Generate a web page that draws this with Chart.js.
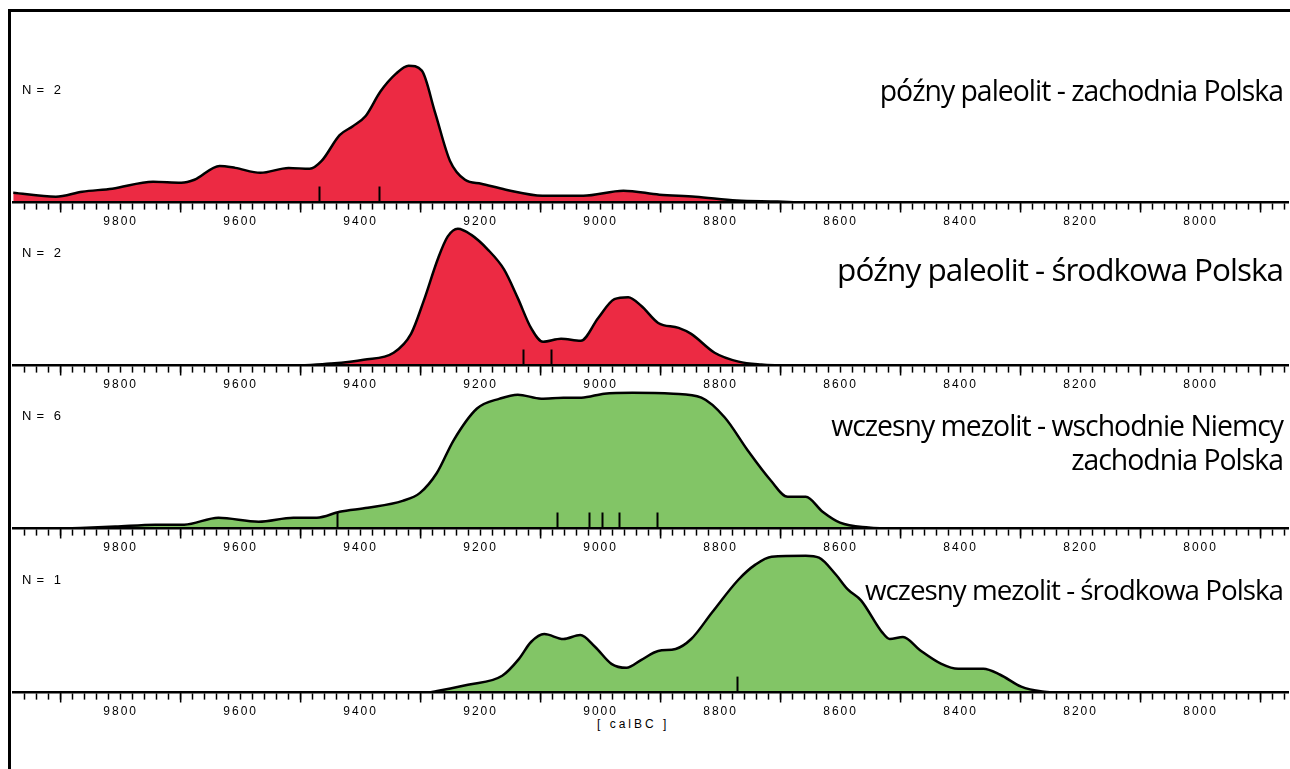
<!DOCTYPE html>
<html>
<head>
<meta charset="utf-8">
<script src="https://cdn.jsdelivr.net/npm/chart.js@4.4.1/dist/chart.umd.min.js"></script>
<style>
  body { margin: 0; background: #fff; width: 1290px; height: 769px; overflow: hidden; position: relative;
         font-family: 'Liberation Sans', Arial, sans-serif; color: #000; }
  .frame-top { position: absolute; left: 8px; top: 9px; width: 1282px; height: 3px; background: #000; }
  .frame-left { position: absolute; left: 8px; top: 9px; width: 3px; height: 760px; background: #000; }
  canvas.panel { position: absolute; left: 12px; }
  .nlabel { position: absolute; left: 22px; font-size: 13px; letter-spacing: 0.8px; white-space: pre; line-height: 14px; }
  .title { position: absolute; right: 7px; font-family: 'Open Sans', sans-serif; line-height: 1;
           letter-spacing: -1px; white-space: nowrap; }
  .unit { position: absolute; left: 597px; top: 717px; font-size: 12px; letter-spacing: 3px; white-space: pre; line-height: 14px; }
</style>
</head>
<body>
<div class="frame-top"></div>
<div class="frame-left"></div>
<div class="unit">[ calBC ]</div>

<script>
// tick labels on every axis
const yearTicks = [9800, 9600, 9400, 9200, 9000, 8800, 8600, 8400, 8200, 8000];

// późny paleolit - zachodnia Polska
const zpYears = [9980, 9908, 9864, 9814, 9746, 9699, 9677, 9635, 9609, 9567, 9520, 9485, 9465, 9435, 9413, 9392, 9367, 9341, 9320, 9298, 9276, 9251, 9226, 9199, 9158, 9097, 9029, 8962, 8902, 8842, 8773, 8705, 8665];
const zpProb  = [10, 6, 11, 14, 21, 20, 23, 37, 35, 30, 35, 34, 42, 68, 77, 87, 112, 130, 138, 133, 91, 42, 23, 19, 13, 7, 7, 12, 8, 6, 2, 1, 0];
const zpDates = [9470, 9370];

// późny paleolit - środkowa Polska
const spYears = [9500, 9450, 9395, 9345, 9316, 9295, 9271, 9255, 9238, 9216, 9188, 9161, 9138, 9116, 9096, 9066, 9033, 9004, 8977, 8954, 8932, 8904, 8870, 8849, 8810, 8770, 8732, 8698];
const spProb  = [0, 2, 6, 13, 32, 65, 108, 130, 138, 132, 117, 97, 68, 38, 24, 27, 25, 48, 67, 69, 60, 43, 38, 32, 13, 4, 1, 0];
const spDates = [9129, 9082];

// wczesny mezolit - wschodnie Niemcy / zachodnia Polska
const wmYears = [9896, 9809, 9742, 9694, 9637, 9570, 9512, 9473, 9435, 9388, 9330, 9301, 9273, 9245, 9206, 9168, 9138, 9099, 9062, 9032, 8994, 8947, 8879, 8832, 8793, 8755, 8717, 8688, 8658, 8630, 8601, 8553, 8525];
const wmProb  = [0, 2, 4, 4, 11, 7, 11, 11, 17, 21, 28, 36, 56, 89, 121, 131, 135, 131, 132, 132, 136, 137, 136, 132, 112, 79, 49, 32, 32, 17, 6, 1, 0];
const wmDates = [9440, 9073, 9020, 8998, 8970, 8906];

// wczesny mezolit - środkowa Polska
const smYears = [9285, 9221, 9164, 9136, 9116, 9094, 9062, 9034, 9009, 8982, 8957, 8932, 8904, 8875, 8849, 8814, 8770, 8742, 8715, 8658, 8636, 8608, 8588, 8566, 8531, 8518, 8496, 8468, 8432, 8404, 8362, 8334, 8299, 8264, 8236];
const smProb  = [0, 8, 17, 34, 51, 59, 54, 58, 46, 29, 25, 33, 42, 44, 54, 81, 114, 129, 137, 138, 136, 119, 104, 93, 61, 54, 56, 43, 29, 24, 24, 18, 6, 1, 0];
const smDates = [8773];

const panelN = [2, 2, 6, 1];
const panelTitles = [
    ['późny paleolit - zachodnia Polska'],
    ['późny paleolit - środkowa Polska'],
    ['wczesny mezolit - wschodnie Niemcy', 'zachodnia Polska'],
    ['wczesny mezolit - środkowa Polska']
];

const RED = '#ec2a43';
const GREEN = '#82c566';

// where each panel's axis line sits on the page, and title placement
const baselines = [203, 366, 529, 693];
const titleTops = [[76], [253], [411, 445], [576]];
const titleSizes = [28.4, 31.5, 28.4, 27.8];

// long ticks every 200 (odd hundreds) + short radiocarbon date marks
const axisExtras = {
    id: 'dateMarks',
    beforeDraw(chart) {
        chart.ctx.letterSpacing = '2px';
    },
    afterDatasetsDraw(chart, args, opts) {
        const { ctx, chartArea, scales: { x } } = chart;
        ctx.save();
        ctx.strokeStyle = '#000';
        ctx.lineWidth = 2;
        ctx.beginPath();
        (opts.dates || []).forEach(d => {
            const px = Math.round(x.getPixelForValue(d)) + 0.5;
            ctx.moveTo(px, chartArea.bottom);
            ctx.lineTo(px, chartArea.bottom - 16);
        });
        ctx.stroke();
        ctx.restore();
    },
    afterDraw(chart) {
        const { ctx, chartArea, scales: { x } } = chart;
        ctx.save();
        ctx.strokeStyle = '#000';
        ctx.lineWidth = 1.5;
        ctx.beginPath();
        const start = Math.ceil((x.min - 100) / 200) * 200 + 100;
        for (let v = start; v <= x.max; v += 200) {
            const px = x.getPixelForValue(v);
            ctx.moveTo(px, chartArea.bottom);
            ctx.lineTo(px, chartArea.bottom + 10);
        }
        ctx.stroke();
        ctx.restore();
        ctx.letterSpacing = '0px';
    }
};

function makePanel(i, years, prob, dates, fillColor) {
    const canvas = document.createElement('canvas');
    canvas.className = 'panel';
    canvas.width = 1278;
    canvas.height = 190;
    document.body.appendChild(canvas);

    const chart = new Chart(canvas.getContext('2d'), {
        type: 'line',
        data: {
            datasets: [{
                data: years.map((yr, k) => ({ x: yr, y: prob[k] })),
                fill: 'origin',
                backgroundColor: fillColor,
                borderColor: '#000',
                borderWidth: 2.5,
                pointRadius: 0,
                cubicInterpolationMode: 'monotone'
            }]
        },
        options: {
            responsive: false,
            animation: false,
            events: [],
            layout: { padding: 0 },
            plugins: {
                legend: { display: false },
                tooltip: { enabled: false },
                dateMarks: { dates: dates }
            },
            scales: {
                x: {
                    type: 'linear',
                    reverse: true,
                    min: 7853,
                    max: 9979,
                    border: { display: true, color: '#000', width: 2.5, z: 1 },
                    grid: { drawOnChartArea: false, drawTicks: true, tickLength: 7, tickColor: '#000', tickWidth: 1.5 },
                    ticks: {
                        stepSize: 20,
                        autoSkip: false,
                        includeBounds: false,
                        maxRotation: 0,
                        padding: 5,
                        color: '#000',
                        font: { family: 'Liberation Sans', size: 12 },
                        callback: v => yearTicks.includes(v) ? String(v) : ''
                    }
                },
                y: { display: false, min: 0, max: 150 }
            }
        },
        plugins: [axisExtras]
    });

    // one data unit = one pixel of height, and the axis line on its baseline
    chart.options.scales.y.max = chart.chartArea.bottom - chart.chartArea.top;
    chart.update();
    canvas.style.top = (baselines[i] - chart.chartArea.bottom) + 'px';

    const n = document.createElement('div');
    n.className = 'nlabel';
    n.textContent = 'N =  ' + panelN[i];
    n.style.top = (baselines[i] - 113.5 - 7) + 'px';
    document.body.appendChild(n);

    panelTitles[i].forEach((t, k) => {
        const d = document.createElement('div');
        d.className = 'title';
        d.textContent = t;
        d.style.top = titleTops[i][k] + 'px';
        d.style.fontSize = titleSizes[i] + 'px';
        document.body.appendChild(d);
    });
}

makePanel(0, zpYears, zpProb, zpDates, RED);
makePanel(1, spYears, spProb, spDates, RED);
makePanel(2, wmYears, wmProb, wmDates, GREEN);
makePanel(3, smYears, smProb, smDates, GREEN);
</script>
</body>
</html>
